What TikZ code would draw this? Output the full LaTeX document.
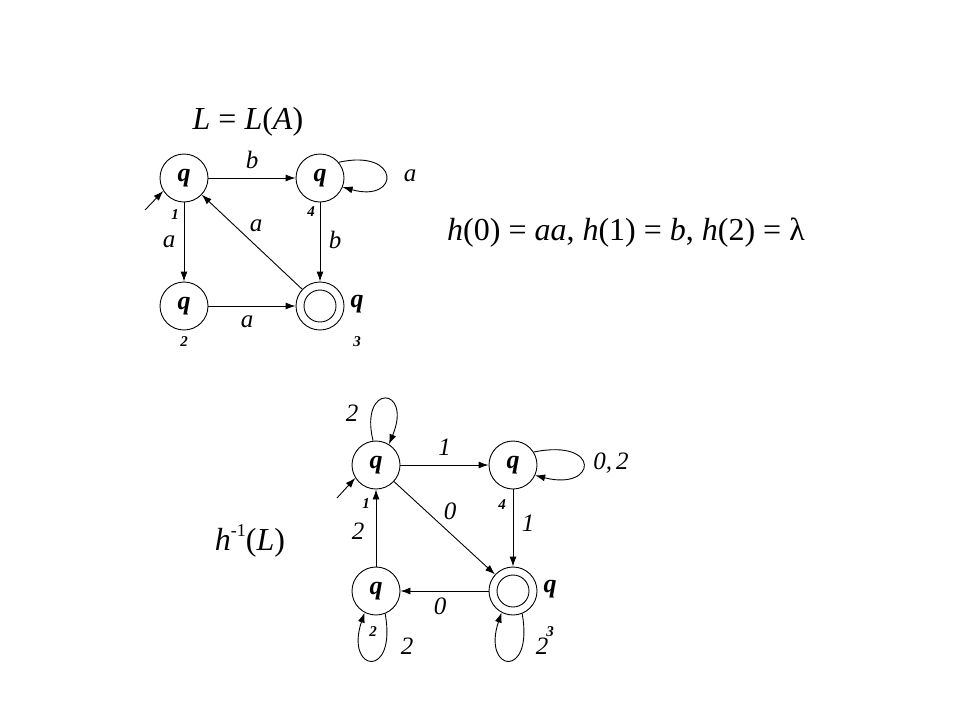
\documentclass[tikz,border=0pt]{standalone}
\usepackage{fontspec}
\setmainfont{Liberation Serif}
\usetikzlibrary{arrows.meta}
\begin{document}
\begin{tikzpicture}[x=1pt,y=-1pt,
  state/.style={draw,circle,minimum size=48pt,inner sep=0pt,line width=0.9pt,font=\fontsize{26}{28}\selectfont\bfseries\itshape},
  inner/.style={draw,circle,minimum size=32pt,inner sep=0pt,line width=0.9pt},
  sub/.style={font=\fontsize{15}{16}\selectfont\bfseries\itshape,inner sep=0pt},
  qout/.style={font=\fontsize{26}{28}\selectfont\bfseries\itshape,inner sep=0pt},
  lab/.style={font=\fontsize{25}{27}\selectfont\itshape,inner sep=0pt},
  big/.style={font=\fontsize{32}{34}\selectfont,inner sep=0pt},
  arr/.style={-{Latex[length=10pt,width=7pt]},line width=0.9pt}]
\useasboundingbox (0,0) rectangle (960,720);
% ---------- top automaton ----------
\node[big] (title) at (248,122) {\textit{L} = \textit{L}(\textit{A})};
\node[state] (t1) at (184,178) {q};
\node[state] (t4) at (320,178) {q};
\node[state] (t2) at (184,306) {q};
\node[state] (t3) at (320,306) {};
\node[inner] (t3i) at (t3) {};
\node[sub] (t1s) at (175,215) {1};
\node[sub] (t4s) at (311,212) {4};
\node[sub] (t2s) at (184,342) {2};
\node[sub] (t3s) at (357,342) {3};
\node[qout] (t3q) at (357,304) {q};
\coordinate (st1) at (145,210);
\draw[arr] (st1) -- (t1.212);
\draw[arr] (t1) -- node[lab,above=9pt] {b} (t4);
\draw[arr] (t4.40) .. controls +(62,-14) and +(58,16) .. (t4.-22);
\node[lab] (la44) at (410,176) {a};
\draw[arr] (t4) -- (t3);
\node[lab] (lb43) at (335,240) {b};
\draw[arr] (t1) -- (t2);
\node[lab] (la12) at (169,242) {a};
\draw[arr] (t2) -- (t3);
\node[lab] (la23) at (247,322) {a};
\draw[arr] (t3) -- (t1);
\node[lab] (la31) at (256,226) {a};
\node[big] (hdef) at (626,233) {\textit{h}(0) = \textit{aa}, \textit{h}(1) = \textit{b}, \textit{h}(2) = λ};
% ---------- bottom automaton ----------
\node[big] (hinv) at (250,541) {\textit{h}\raisebox{0.45em}{\fontsize{18}{19}\selectfont -1}(\textit{L})};
\node[state] (b1) at (376,465) {q};
\node[state] (b4) at (513,465) {q};
\node[state] (b2) at (376,591) {q};
\node[state] (b3) at (513,591) {};
\node[inner] (b3i) at (b3) {};
\node[sub] (b1s) at (366,504) {1};
\node[sub] (b4s) at (502,505) {4};
\node[sub] (b2s) at (373,632) {2};
\node[sub] (b3s) at (550,632) {3};
\node[qout] (b3q) at (550,589) {q};
\coordinate (st2) at (337,498);
\draw[arr] (st2) -- (b1.212);
\draw[arr] (b1.97) .. controls +(-14,-58) and +(24,-58) .. (b1.58);
\node[lab] (l2b11) at (352,413) {2};
\draw[arr] (b1) -- node[lab,above=9pt] {1} (b4);
\draw[arr] (b4.32) .. controls +(68,-14) and +(62,16) .. (b4.-25);
\node[lab] (l2b44) at (611,463) {0,\,2};
\draw[arr] (b1) -- (b3);
\node[lab] (l0b13) at (450,511) {0};
\draw[arr] (b4) -- (b3);
\node[lab] (l1b43) at (528,523) {1};
\draw[arr] (b2) -- (b1);
\node[lab] (l2b21) at (358,531) {2};
\draw[arr] (b3) -- (b2);
\node[lab] (l0b32) at (440,606) {0};
\draw[arr] (b2.-68) .. controls +(12,66) and +(-20,60) .. (b2.-118);
\node[lab] (l2b22) at (407,646) {2};
\draw[arr] (b3.-68) .. controls +(12,66) and +(-20,60) .. (b3.-118);
\node[lab] (l2b33) at (542,646) {2};
\end{tikzpicture}
\end{document}
